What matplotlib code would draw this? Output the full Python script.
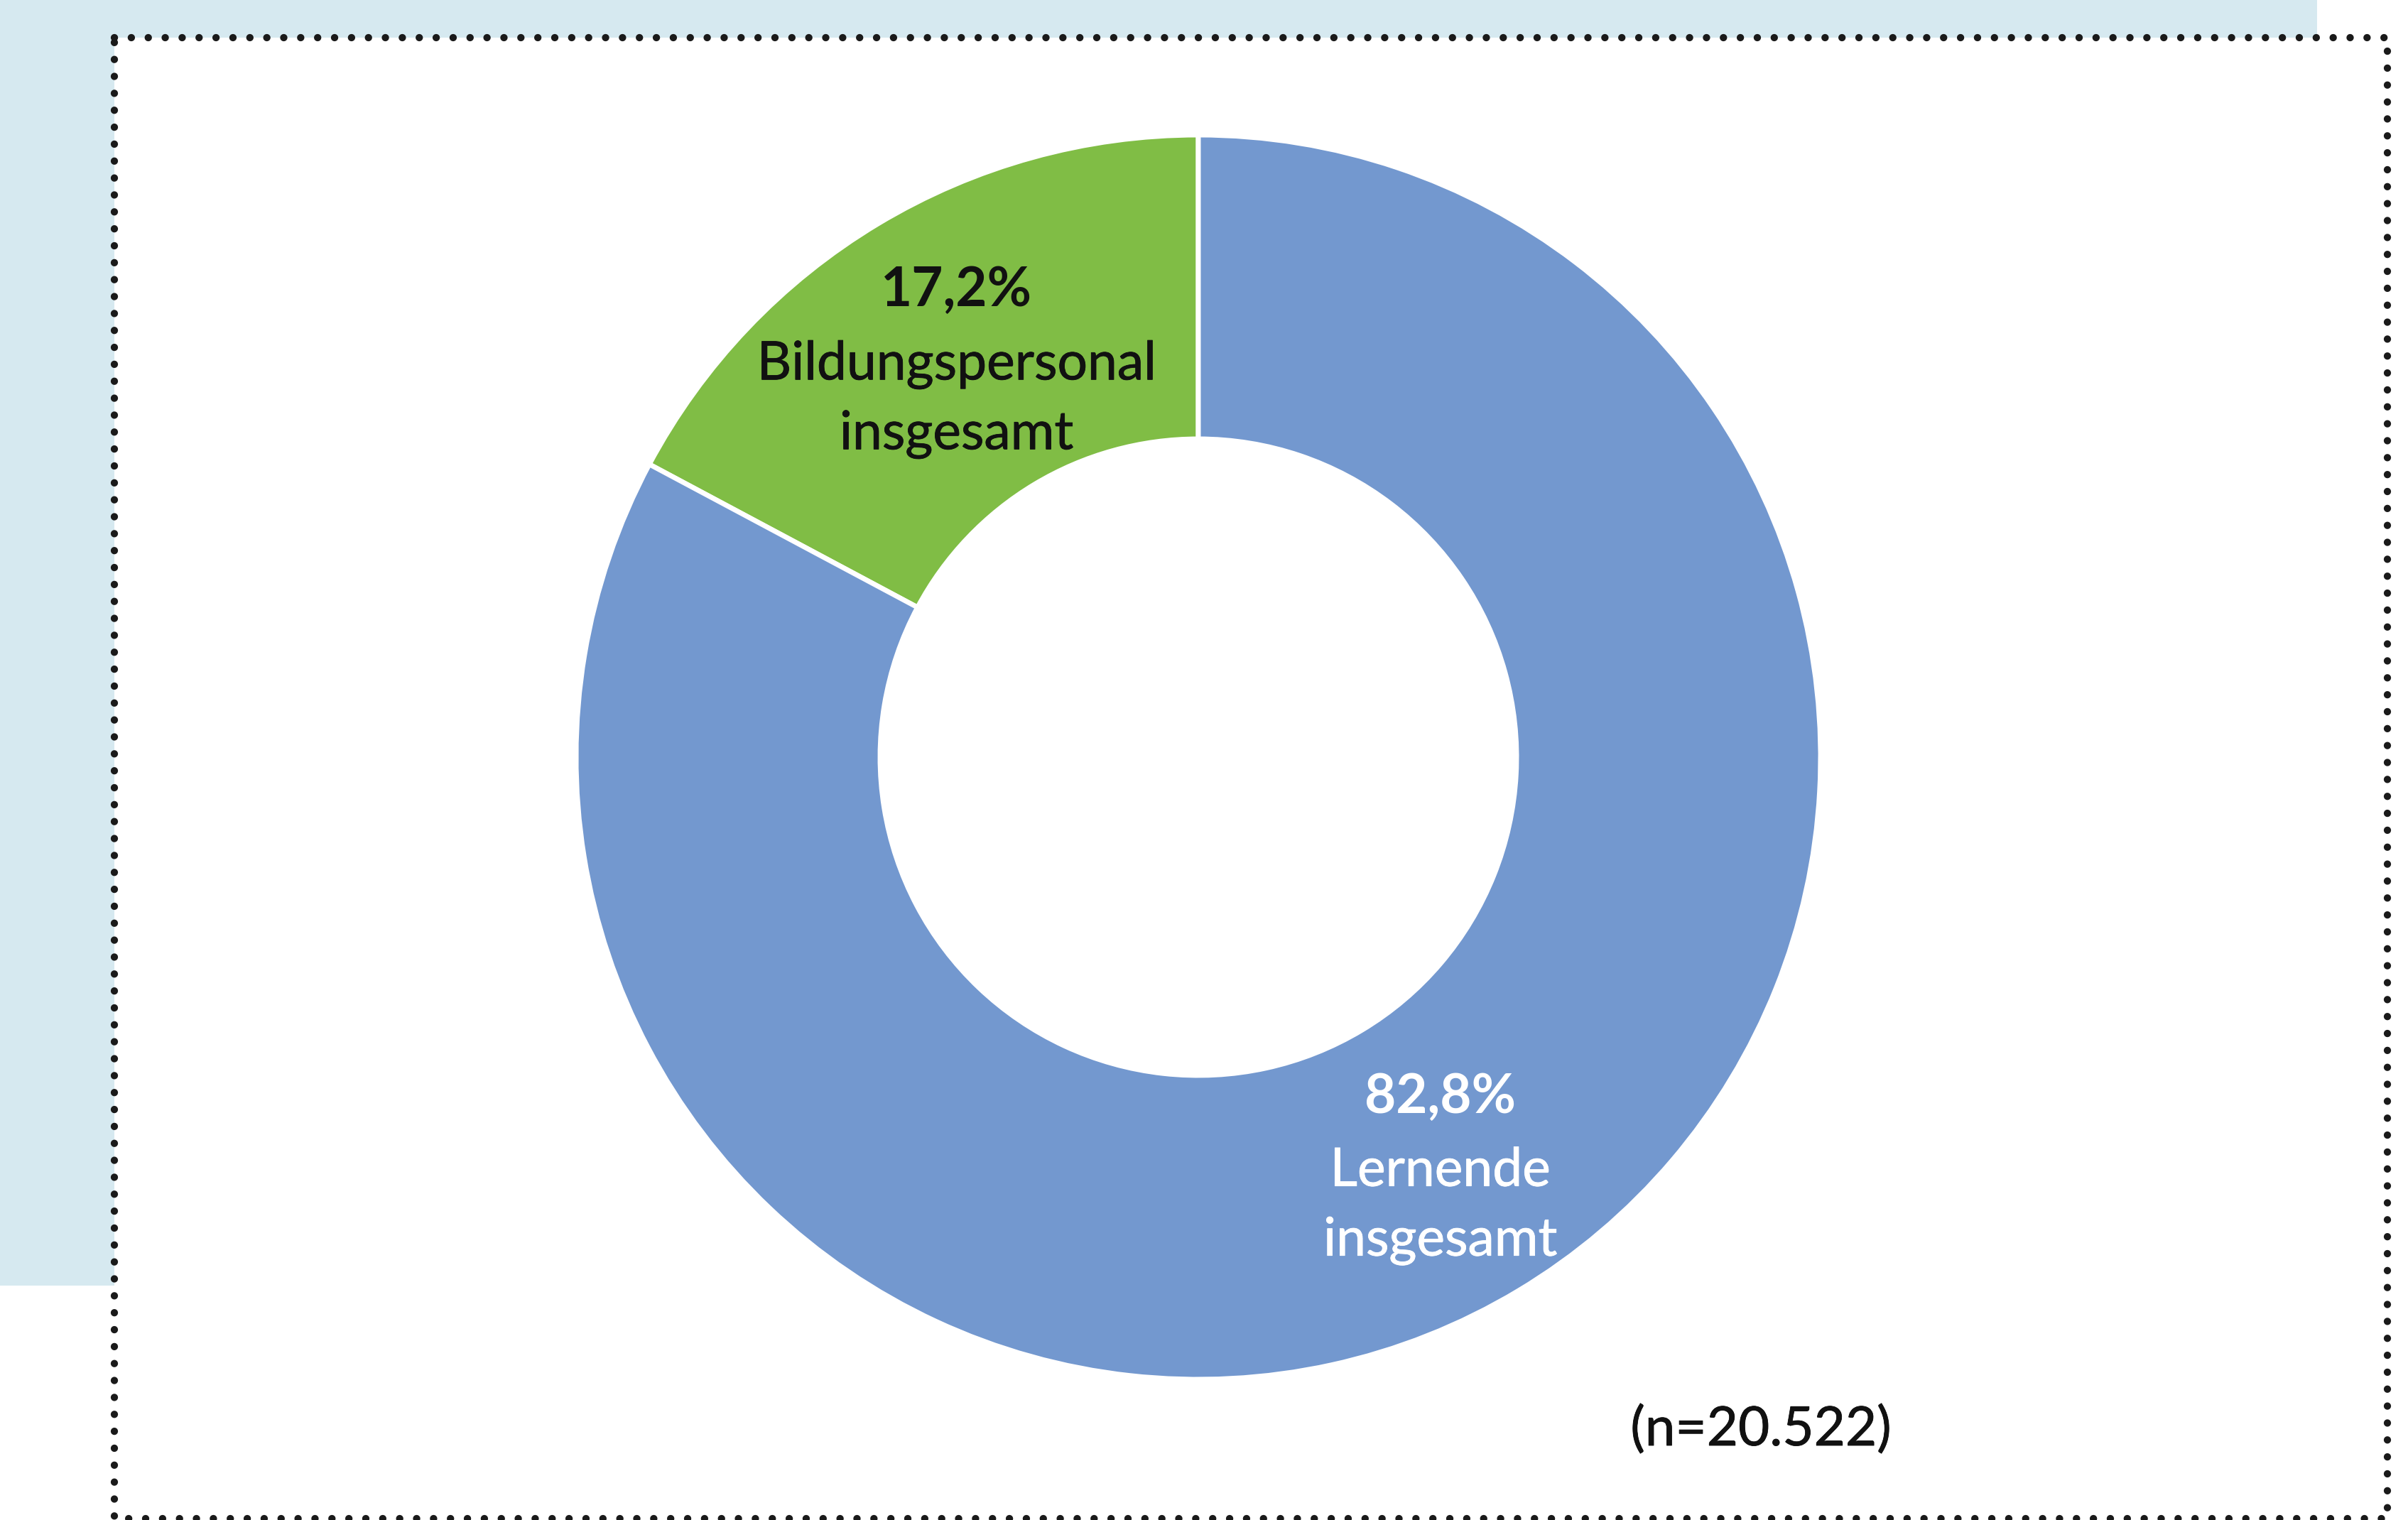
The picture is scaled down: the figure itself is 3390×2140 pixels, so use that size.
import numpy as np
import matplotlib
matplotlib.use("Agg")
import matplotlib.pyplot as plt
import matplotlib.patheffects as pe
from matplotlib.patches import Rectangle

# canvas in pixels
W, H = 3390, 2140
DPI = 100

# donut data
groups = ["Bildungspersonal\ninsgesamt", "Lernende\ninsgesamt"]
shares = [17.2, 82.8]
colors = ["#80BD45", "#7398CF"]
text_colors = ["#111111", "#FFFFFF"]
sample_note = "(n=20.522)"

plt.rcParams['font.family'] = ['Lato', 'DejaVu Sans']


def py(y):
    ''' image row -> data y (axis runs bottom-up) '''
    return H - y


def heavy(color):
    # a touch thicker strokes for the labels
    return [pe.withStroke(linewidth=0.6, foreground=color)]


fig = plt.figure(figsize=(W / DPI, H / DPI), dpi=DPI)
fig.patch.set_facecolor("white")
ax = fig.add_axes([0, 0, 1, 1])

# light blue panel behind the frame
ax.add_patch(Rectangle((0, py(1810)), 3262, 1810, facecolor="#D6E9F0",
                       edgecolor="none", zorder=0))

# white box with dotted border
left, top, right, bottom = 161, 53, 3361, 2138
ax.add_patch(Rectangle((left, py(bottom)), right - left, bottom - top,
                       facecolor="white", edgecolor="none", zorder=1))
ax.plot([left, right, right, left, left],
        [py(top), py(top), py(bottom), py(bottom), py(top)],
        color="#1A1A1A", lw=7.4, linestyle=(0, (0.01, 2.31)),
        dash_capstyle="round", zorder=2)

# donut
cx, cy = 1687, 1066
r_out, r_in = 876, 448
wedges, _ = ax.pie(shares, colors=colors, startangle=90, counterclock=True,
                   center=(cx, py(cy)), radius=r_out, frame=True,
                   wedgeprops=dict(width=r_out - r_in, edgecolor="white",
                                   linewidth=5))
for w in wedges:
    w.set_zorder(3)
ax.set_xlim(0, W)
ax.set_ylim(0, H)
ax.set_aspect("equal")
ax.axis("off")

# labels at the middle of each ring segment
r_mid = (r_out + r_in) / 2
for w, val, name, tc in zip(wedges, shares, groups, text_colors):
    ang = np.deg2rad((w.theta1 + w.theta2) / 2)
    lx = cx + r_mid * np.cos(ang)
    ly = cy - r_mid * np.sin(ang)
    pct = f"{val:.1f}%".replace(".", ",")
    ax.text(lx, py(ly - 67), pct, ha="center", va="baseline",
            fontsize=55, fontweight="bold", color=tc, zorder=4)
    for i, line in enumerate(name.split("\n")):
        ax.text(lx, py(ly + 36 + 98 * i), line, ha="center", va="baseline",
                fontsize=54, color=tc, zorder=4, path_effects=heavy(tc))

ax.text(2479, py(2035), sample_note, ha="center", va="baseline",
        fontsize=55, color="#111111", zorder=4, path_effects=heavy("#111111"))

fig.savefig("out.png", dpi=DPI)
